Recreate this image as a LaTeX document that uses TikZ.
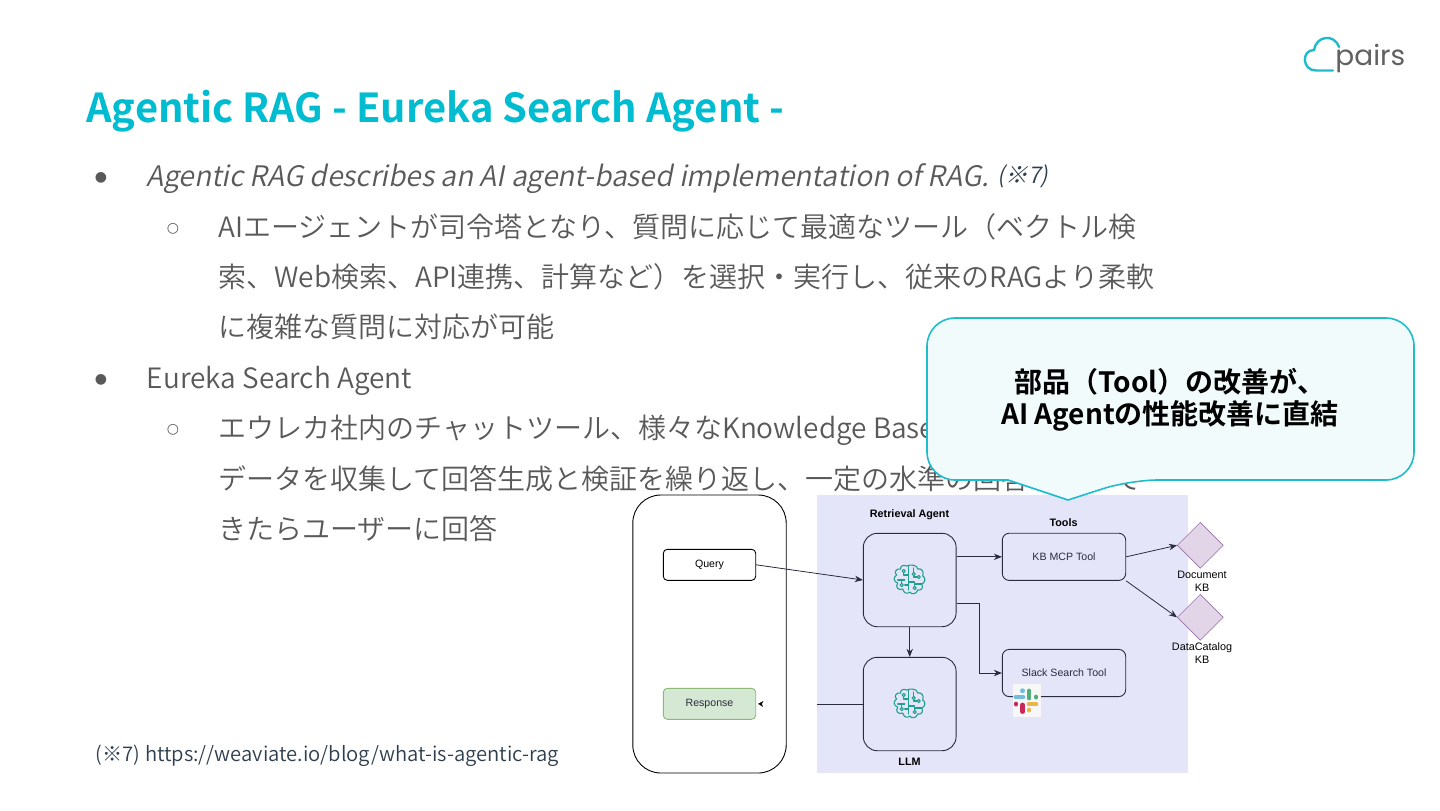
\documentclass[tikz,border=0pt]{standalone}
\usepackage{fontspec}
\usetikzlibrary{arrows.meta,shapes.geometric}
\setmainfont{Noto Sans CJK JP DemiLight}
\newfontfamily\boldjp{Noto Sans CJK JP Bold}
\newfontfamily\italjp[FakeSlant=0.2]{Noto Sans CJK JP DemiLight}
\newfontfamily\helv{Liberation Sans}
\newfontfamily\sym{DejaVu Sans}
\newfontfamily\logo{Poppins}
\definecolor{titlecol}{HTML}{00BCD0}
\definecolor{bodycol}{HTML}{595959}
\definecolor{footcol}{HTML}{2F3E4E}
\definecolor{calloutedge}{HTML}{1FBCCC}
\definecolor{calloutfill}{HTML}{F2FBFB}
\definecolor{bgpurple}{HTML}{E5E5FA}
\definecolor{edgedark}{HTML}{2B2B40}
\definecolor{braincol}{HTML}{1FA08F}
\definecolor{kbedge}{HTML}{9673A6}
\definecolor{kbfill}{HTML}{E1D5E7}
\definecolor{respfill}{HTML}{D5E8D4}
\definecolor{respedge}{HTML}{8FB87A}
\definecolor{slackblue}{HTML}{70BDE0}
\definecolor{slackgreen}{HTML}{4FAE7E}
\definecolor{slackred}{HTML}{C9285A}
\definecolor{slackyellow}{HTML}{E8B64A}
\tikzset{
  x=0.5pt,y=-0.5pt,
  line/.style={anchor=base west,inner sep=0,font=\fontsize{14}{14}\selectfont,text=bodycol},
  bul/.style={anchor=center,inner sep=0,text=bodycol},
  box/.style={draw=black,rounded corners=2pt,line width=0.45pt,inner sep=0,font=\helv\fontsize{5.3}{6}\selectfont},
  agentbox/.style={draw=edgedark,rounded corners=7pt,line width=0.45pt,minimum width=46.4pt,minimum height=46.7pt,inner sep=0},
  toolbox/.style={draw=edgedark,rounded corners=3.5pt,line width=0.45pt,minimum width=61.7pt,minimum height=23.6pt,inner sep=0,font=\helv\fontsize{5.3}{6}\selectfont,text=edgedark},
  kb/.style={diamond,draw=kbedge,fill=kbfill,line width=0.3pt,minimum width=23pt,minimum height=23pt,inner sep=0,aspect=1},
  lbl/.style={inner sep=0,font=\helv\fontsize{5.4}{6.4}\selectfont,align=center},
  hdr/.style={inner sep=0,font=\helv\bfseries\fontsize{5.4}{6}\selectfont},
  conn/.style={draw=edgedark,line width=0.4pt,-{Stealth[length=4pt,width=3.2pt]}},
  brainline/.style={draw=braincol,line width=0.55pt,line cap=round,line join=round},
  slackbar/.style={line width=2.4pt,line cap=round},
  pics/brain/.style={code={
    \draw[brainline] (-3,-14) .. controls (-7,-16) and (-10,-13) .. (-9,-11)
       .. controls (-14,-12) and (-16,-7) .. (-13,-5)
       .. controls (-17,-3) and (-16,2) .. (-12,3)
       .. controls (-15,7) and (-11,11) .. (-7,9)
       .. controls (-6,14) and (-1,14) .. (0,12)
       .. controls (2,15) and (7,14) .. (8,10)
       .. controls (12,11) and (14,7) .. (12,4)
       .. controls (16,3) and (16,-3) .. (13,-4)
       .. controls (15,-9) and (11,-12) .. (8,-11)
       .. controls (8,-15) and (1,-16) .. (-3,-14) -- cycle;
    \draw[brainline] (-1,-14) -- (-1,10) (-1,-5) -- (-6,-5) -- (-6,-9)
       (-12,0) -- (-5,0) (-8,0) -- (-8,5) (-1,5) -- (-5,5)
       (4,-12) -- (4,-3) -- (9,-3) (-1,2) -- (5,2) -- (5,8) (5,4) -- (12,4);
    \foreach \p in {(-6,-9),(-8,5),(9,-3),(5,8),(4,-6)}
      \filldraw[brainline,fill=bgpurple] \p circle (1.6);
  }}
}
\begin{document}
\begin{tikzpicture}
\useasboundingbox[fill=white] (0,0) rectangle (1440,810);

% logo
\draw[calloutedge,line width=1.2pt,line cap=round] (1333,70.5) -- (1316,70.5)
  .. controls (1302,70.5) and (1301,50) .. (1314,50)
  .. controls (1316,36) and (1334,33) .. (1339,47);
\node[anchor=base west,inner sep=0,font=\logo\fontsize{14}{14}\selectfont,text=black!62] (pairs) at (1335,65) {pairs};

% title
\node[anchor=base west,inner sep=0,font=\boldjp\fontsize{19.95}{22}\selectfont,text=titlecol] (title) at (86,122) {Agentic RAG - Eureka Search Agent -};

% bullets and body
\node[bul,font=\sym\fontsize{7}{7}\selectfont] (b1) at (101,178) {●};
\node[line,font=\italjp\fontsize{14.12}{14}\selectfont] (l1) at (146,186) {Agentic RAG describes an AI agent-based implementation of RAG.};
\node[anchor=base west,inner sep=0,font=\italjp\fontsize{11.5}{11}\selectfont,text=footcol] (l1n) at (997,183) {(※7)};
\node[bul,font=\sym\fontsize{7}{7}\selectfont] (b2) at (173,229) {○};
\node[line] (l2) at (218,237) {AIエージェントが司令塔となり、質問に応じて最適なツール（ベクトル検};
\node[line] (l3) at (218,287) {索、Web検索、API連携、計算など）を選択・実行し、従来のRAGより柔軟};
\node[line] (l4) at (218,337) {に複雑な質問に対応が可能};
\node[bul,font=\sym\fontsize{7}{7}\selectfont] (b3) at (101,380) {●};
\node[line] (l5) at (146.5,388) {Eureka Search Agent};
\node[bul,font=\sym\fontsize{7}{7}\selectfont] (b4) at (173,430) {○};
\node[line] (l6) at (218,438) {エウレカ社内のチャットツール、様々なKnowledge Base};
\node[line] (l7) at (218,489) {データを収集して回答生成と検証を繰り返し、一定の水準の回答};
\node[line] (l7b) at (1113,489) {て};
\node[line] (l8) at (218,539) {きたらユーザーに回答};
\node[anchor=base west,inner sep=0,font=\fontsize{10.1}{11}\selectfont,text=footcol] (foot) at (95.5,761) {(※7) https://weaviate.io/blog/what-is-agentic-rag};

% embedded diagram
\node[fill=bgpurple,minimum width=185.2pt,minimum height=139pt,inner sep=0] (panel) at (1002.5,634) {};
\node[draw=black,rounded corners=14pt,line width=0.45pt,minimum width=76.7pt,minimum height=139pt,inner sep=0] (client) at (709.5,634) {};
\node[box,fill=white,minimum width=46.2pt,minimum height=15.5pt] (query) at (709.5,564.8) {\raisebox{-0.5pt}{Query}};
\node[box,draw=respedge,fill=respfill,minimum width=46.2pt,minimum height=15.5pt,text=edgedark] (response) at (709.5,703.8) {\raisebox{-0.5pt}{Response}};
\node[agentbox] (agent) at (909.7,580) {};
\node[agentbox] (llm) at (909.7,704) {};
\pic at (909.7,580) {brain};
\pic at (909.7,704) {brain};
\node[hdr] (ragent) at (909.5,515) {Retrieval Agent};
\node[hdr] (tools) at (1063.5,523) {Tools};
\node[hdr] (llmlabel) at (909.5,762) {LLM};
\node[toolbox] (kbtool) at (1064,556.8) {\raisebox{-0.3pt}{KB MCP Tool}};
\node[toolbox] (slacktool) at (1064,673) {\raisebox{-0.3pt}{Slack Search Tool}};
\node[kb] (doc) at (1200.3,545.3) {};
\node[kb] (cat) at (1200.3,617.3) {};
\node[lbl] (doclabel) at (1202,581) {Document\\KB};
\node[lbl] (catlabel) at (1202,653) {DataCatalog\\KB};

% slack logo
\node[fill=black!3,minimum width=13.7pt,minimum height=16.5pt,inner sep=0] (slacktile) at (1027,700.5) {};
\draw[slackbar,draw=slackblue] (1016,697) -- (1023,697);
\draw[slackbar,draw=slackblue] (1022.7,690.7) -- (1022.7,690.8);
\draw[slackbar,draw=slackgreen] (1029,691) -- (1029,698);
\draw[slackbar,draw=slackgreen] (1036,697) -- (1036,697.1);
\draw[slackbar,draw=slackred] (1022.7,705) -- (1022.7,711.5);
\draw[slackbar,draw=slackred] (1016,704) -- (1016,704.1);
\draw[slackbar,draw=slackyellow] (1029,704) -- (1036,704);
\draw[slackbar,draw=slackyellow] (1029,710) -- (1029,710.1);

% connectors
\draw[conn] (query.east) -- (agent.west);
\draw[conn] (agent.south) -- (llm.north);
\draw[conn] (agent.east |- kbtool.west) -- (kbtool.west);
\coordinate (agentout) at ([yshift=-11.65pt]agent.east);
\coordinate (elbow) at (979.7,603.3);
\draw[conn] (agentout) -- (elbow) |- (slacktool.west);
\draw[conn] (kbtool.east) -- (doc.west);
\draw[conn] (kbtool.south east) -- (cat.west);
\coordinate (gapR) at (817.3,704);
\coordinate (gapL) at (763,704);
\draw[draw=edgedark,line width=0.4pt] (llm.west) -- (gapR);
\draw[-{Stealth[length=2.5pt,width=2.8pt]},draw=black,line width=0.1pt] (gapL) -- ([xshift=1pt]response.east);

% callout
\draw[draw=calloutedge,fill=calloutfill,line width=0.8pt,rounded corners=14pt]
  (927,318) -- (1414,318) -- (1414,480) -- (1130,480) [sharp corners] -- (1068,500) -- (1008,480) [rounded corners=14pt] -- (927,480) -- cycle;
\node[inner sep=0,align=center,font=\boldjp\fontsize{14}{16}\selectfont,text=black] (callout) at (1170,400) {部品（Tool）の改善が、\\AI Agentの性能改善に直結};
\end{tikzpicture}
\end{document}
